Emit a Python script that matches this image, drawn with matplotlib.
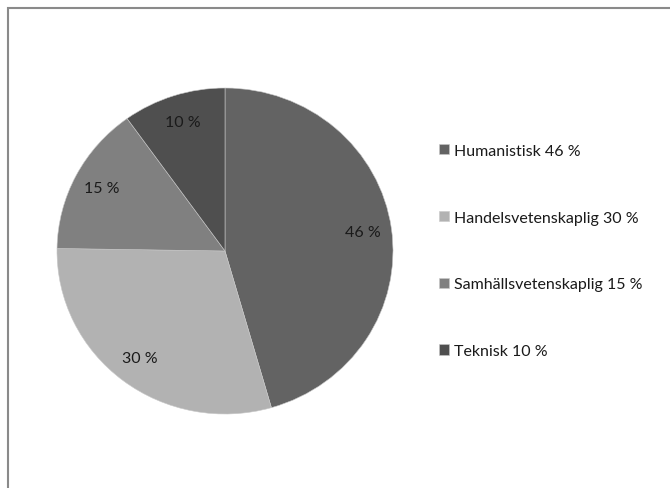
import matplotlib.pyplot as plt
from matplotlib.patches import Rectangle

# --- Данные ---
categories = ["Humanistisk", "Handelsvetenskaplig", "Samhällsvetenskaplig", "Teknisk"]
shares = [46, 30, 15, 10]
colors = ["#636363", "#b2b2b2", "#808080", "#4f4f4f"]

plt.rcParams['font.family'] = ['Lato', 'DejaVu Sans']

W, H = 670, 489
fig = plt.figure(figsize=(W / 100, H / 100), dpi=100)

# рамка вокруг диаграммы (правый и нижний край за пределами картинки)
fig.patches.append(Rectangle((8 / W, -0.1), 1.2, (H - 9) / H + 0.1,
                             transform=fig.transFigure, fill=False,
                             edgecolor="#8a8a8a", linewidth=1.5))

# --- Круговая диаграмма ---
cx, cy, rx, ry = 225, 252, 168, 163
ax = fig.add_axes([(cx - rx) / W, (H - cy - ry) / H, 2 * rx / W, 2 * ry / H])
wedges, texts, autotexts = ax.pie(
    shares, colors=colors, startangle=90, counterclock=False,
    autopct=lambda p: "", pctdistance=0.83, radius=1,
    wedgeprops=dict(edgecolor="#c8c8c8", linewidth=0.4))
for t, v in zip(autotexts, shares):
    t.set_text(f"{v} %")
    t.set_fontsize(11.5)
    t.set_color("#1a1a1a")
ax.set_aspect('auto')
ax.set_xlim(-1, 1)
ax.set_ylim(-1, 1)
ax.axis('off')

# --- Легенда ---
labels = [f"{c} {v} %" for c, v in zip(categories, shares)]
fig.legend(wedges, labels, loc="upper left", bbox_to_anchor=(431 / W, 1 - 137 / H),
           frameon=False, fontsize=11.5, handlelength=0.6, handleheight=0.6,
           handletextpad=0.35, labelspacing=3.3, borderpad=0, labelcolor="#1a1a1a")

fig.savefig("out.png", dpi=100)
